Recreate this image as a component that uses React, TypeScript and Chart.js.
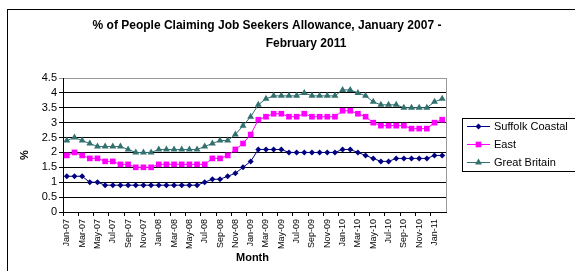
import React, { useEffect, useRef } from "react";
import { Chart, registerables } from "chart.js";

Chart.register(...registerables);

const months: string[] = [
  "Jan-07","Feb-07","Mar-07","Apr-07","May-07","Jun-07","Jul-07","Aug-07","Sep-07","Oct-07","Nov-07","Dec-07",
  "Jan-08","Feb-08","Mar-08","Apr-08","May-08","Jun-08","Jul-08","Aug-08","Sep-08","Oct-08","Nov-08","Dec-08",
  "Jan-09","Feb-09","Mar-09","Apr-09","May-09","Jun-09","Jul-09","Aug-09","Sep-09","Oct-09","Nov-09","Dec-09",
  "Jan-10","Feb-10","Mar-10","Apr-10","May-10","Jun-10","Jul-10","Aug-10","Sep-10","Oct-10","Nov-10","Dec-10",
  "Jan-11","Feb-11",
];

const suffolkCoastal: number[] = [
  1.2, 1.2, 1.2, 1.0, 1.0, 0.9, 0.9, 0.9, 0.9, 0.9, 0.9, 0.9,
  0.9, 0.9, 0.9, 0.9, 0.9, 0.9, 1.0, 1.1, 1.1, 1.2, 1.3, 1.5,
  1.7, 2.1, 2.1, 2.1, 2.1, 2.0, 2.0, 2.0, 2.0, 2.0, 2.0, 2.0,
  2.1, 2.1, 2.0, 1.9, 1.8, 1.7, 1.7, 1.8, 1.8, 1.8, 1.8, 1.8,
  1.9, 1.9,
];

const east: number[] = [
  1.9, 2.0, 1.9, 1.8, 1.8, 1.7, 1.7, 1.6, 1.6, 1.5, 1.5, 1.5,
  1.6, 1.6, 1.6, 1.6, 1.6, 1.6, 1.6, 1.8, 1.8, 1.9, 2.1, 2.3,
  2.6, 3.1, 3.2, 3.3, 3.3, 3.2, 3.2, 3.3, 3.2, 3.2, 3.2, 3.2,
  3.4, 3.4, 3.3, 3.2, 3.0, 2.9, 2.9, 2.9, 2.9, 2.8, 2.8, 2.8,
  3.0, 3.1,
];

const greatBritain: number[] = [
  2.4, 2.5, 2.4, 2.3, 2.2, 2.2, 2.2, 2.2, 2.1, 2.0, 2.0, 2.0,
  2.1, 2.1, 2.1, 2.1, 2.1, 2.1, 2.2, 2.3, 2.4, 2.4, 2.6, 2.9,
  3.2, 3.6, 3.8, 3.9, 3.9, 3.9, 3.9, 4.0, 3.9, 3.9, 3.9, 3.9,
  4.1, 4.1, 4.0, 3.9, 3.7, 3.6, 3.6, 3.6, 3.5, 3.5, 3.5, 3.5,
  3.7, 3.8,
];

const yMin = 0;
const yMax = 4.5;
const yStep = 0.5;

const titleLines: string[] = [
  "% of People Claiming Job Seekers Allowance, January 2007 -",
  "February 2011",
];
const xTitle = "Month";
const yTitle = "%";

const FONT = "'Liberation Sans', Arial, sans-serif";

function drawMarker(ctx: CanvasRenderingContext2D, style: string, x: number, y: number, r: number, color: string) {
  ctx.save();
  ctx.fillStyle = color;
  ctx.beginPath();
  if (style === "rectRot") {
    ctx.moveTo(x, y - r);
    ctx.lineTo(x + r, y);
    ctx.lineTo(x, y + r);
    ctx.lineTo(x - r, y);
  } else if (style === "rect") {
    const s = r * Math.SQRT1_2;
    ctx.rect(x - s, y - s, 2 * s, 2 * s);
  } else {
    ctx.moveTo(x, y - r);
    ctx.lineTo(x + r * 0.866, y + r * 0.5);
    ctx.lineTo(x - r * 0.866, y + r * 0.5);
  }
  ctx.closePath();
  ctx.fill();
  ctx.restore();
}

const decorPlugin = {
  id: "decor",
  beforeDraw(chart: any) {
    const ctx = chart.ctx as CanvasRenderingContext2D;
    ctx.save();
    ctx.fillStyle = "#fff";
    ctx.fillRect(0, 0, chart.width, chart.height);
    ctx.strokeStyle = "#000";
    ctx.lineWidth = 1;
    ctx.strokeRect(7.5, 9.5, chart.width + 20, chart.height + 20);
    ctx.restore();
  },
  afterDraw(chart: any) {
    const ctx = chart.ctx as CanvasRenderingContext2D;
    const area = chart.chartArea;
    ctx.save();
    // right plot border
    ctx.strokeStyle = "#999";
    ctx.lineWidth = 1;
    ctx.beginPath();
    ctx.moveTo(Math.round(area.right) + 0.5, area.top);
    ctx.lineTo(Math.round(area.right) + 0.5, area.bottom);
    ctx.stroke();

    // title
    ctx.fillStyle = "#000";
    ctx.font = `bold 12px ${FONT}`;
    ctx.textAlign = "center";
    ctx.textBaseline = "middle";
    ctx.fillText(titleLines[0], 267, 26);
    ctx.fillText(titleLines[1], 306, 44);

    // axis titles
    ctx.font = `bold 11px ${FONT}`;
    ctx.fillText(xTitle, (area.left + area.right) / 2 - 2, 258);
    ctx.save();
    ctx.translate(25, 155);
    ctx.rotate(-Math.PI / 2);
    ctx.fillText(yTitle, 0, 0);
    ctx.restore();

    // legend
    ctx.strokeStyle = "#000";
    ctx.strokeRect(462.5, 118.5, 130, 53);
    ctx.font = `11px ${FONT}`;
    ctx.textAlign = "left";
    const rowY = [126, 144, 162];
    chart.data.datasets.forEach((ds: any, i: number) => {
      const y = rowY[i];
      ctx.strokeStyle = ds.borderColor;
      ctx.lineWidth = 1;
      ctx.beginPath();
      ctx.moveTo(467, y + 0.5);
      ctx.lineTo(490, y + 0.5);
      ctx.stroke();
      drawMarker(ctx, ds.pointStyle, 478.5, y + 0.5, ds.pointRadius, ds.backgroundColor);
      ctx.fillStyle = "#000";
      ctx.fillText(ds.label, 494, y + 1);
    });
    ctx.restore();
  },
};

export default function App() {
  const ref = useRef<HTMLCanvasElement | null>(null);

  useEffect(() => {
    if (!ref.current) return;
    Chart.defaults.color = "#000";
    Chart.defaults.font.family = FONT;
    const chart = new Chart(ref.current, {
      type: "line",
      data: {
        labels: months,
        datasets: [
          {
            label: "Suffolk Coastal",
            data: suffolkCoastal,
            borderColor: "#000080",
            backgroundColor: "#000080",
            borderWidth: 1,
            pointStyle: "rectRot",
            pointRadius: 3,
            pointBorderWidth: 0,
          },
          {
            label: "East",
            data: east,
            borderColor: "#FF00FF",
            backgroundColor: "#FF00FF",
            borderWidth: 1,
            pointStyle: "rect",
            pointRadius: 4,
            pointBorderWidth: 0,
          },
          {
            label: "Great Britain",
            data: greatBritain,
            borderColor: "#337070",
            backgroundColor: "#337070",
            borderWidth: 1,
            pointStyle: "triangle",
            pointRadius: 4,
            pointBorderWidth: 0,
          },
        ],
      },
      options: {
        responsive: false,
        animation: false,
        events: [],
        layout: { padding: { left: 0, right: 129, top: 78, bottom: 0 } },
        plugins: {
          legend: { display: false },
          title: { display: false },
          tooltip: { enabled: false },
        },
        scales: {
          x: {
            type: "category",
            offset: true,
            grid: {
              offset: true,
              drawOnChartArea: false,
              drawTicks: true,
              tickLength: 4,
              color: (c: any) => (c.index % 2 === 0 ? "#000" : "rgba(0,0,0,0)"),
            },
            border: { color: "#000", width: 1 },
            ticks: {
              autoSkip: false,
              maxRotation: 90,
              minRotation: 90,
              font: { size: 9, family: FONT },
              color: "#000",
              callback: (_v: any, i: number) => (i % 2 === 0 ? months[i] : ""),
            },
            afterFit: (s: any) => {
              s.height = 59;
            },
          },
          y: {
            min: yMin,
            max: yMax,
            grid: {
              color: (c: any) => (c.tick && Math.abs(c.tick.value - yMax) < 1e-6 ? "#999" : "#000"),
              tickLength: 4,
            },
            border: { color: "#000", width: 1 },
            ticks: {
              stepSize: yStep,
              autoSkip: false,
              font: { size: 11, family: FONT },
              color: "#000",
              padding: 2,
              callback: (v: any) => String(Math.round(Number(v) * 10) / 10),
            },
            afterFit: (s: any) => {
              s.width = 63;
            },
          },
        },
      },
      plugins: [decorPlugin],
    });
    return () => chart.destroy();
  }, []);

  return (
    <div style={{ position: "absolute", left: 0, top: 0, width: 575, height: 271 }}>
      <canvas ref={ref} width={575} height={271} style={{ width: 575, height: 271, display: "block" }} />
    </div>
  );
}
